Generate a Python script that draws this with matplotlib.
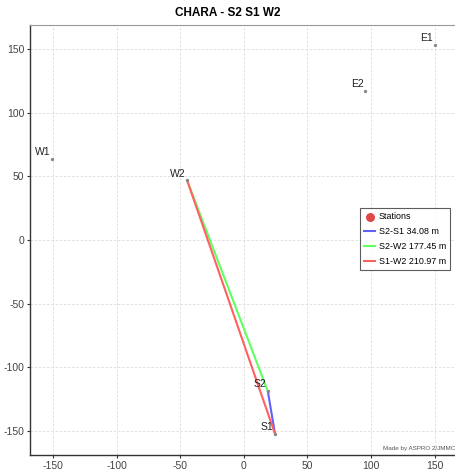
import numpy as np
import matplotlib.pyplot as plt

plt.rcParams['font.family'] = ['Liberation Sans', 'DejaVu Sans']
plt.rcParams['axes.unicode_minus'] = False

# station positions (m)
stations = ['S1', 'S2', 'E1', 'E2', 'W1', 'W2']
station_x = [24.6, 18.9, 149.9, 95.0, -150.5, -44.5]
station_y = [-152.5, -118.9, 153.4, 117.2, 63.8, 46.8]

# baselines drawn
baselines = [('S2', 'S1'), ('S2', 'W2'), ('S1', 'W2')]
baseline_len = [34.08, 177.45, 210.97]
baseline_col = ['#6060ff', '#60ff60', '#ff6060']

pos = dict(zip(stations, zip(station_x, station_y)))

fig = plt.figure(figsize=(4.55, 4.70), dpi=100)
ax = fig.add_axes([30 / 455, 15 / 470, 425 / 455, 430 / 470])

# Stations
ax.scatter(station_x, station_y, s=2, color='#888888', zorder=3)
for name, x, y in zip(stations, station_x, station_y):
    ax.text(x - 1, y + 1.5, name, fontsize=7.5, color='#222222',
            ha='right', va='bottom', zorder=4)
ax.scatter([], [], s=30, color='#e04848', label='Stations')

# Baselines
for (a, b), length, col in zip(baselines, baseline_len, baseline_col):
    ax.plot([pos[a][0], pos[b][0]], [pos[a][1], pos[b][1]], color=col,
            lw=1.5, label='%s-%s %.2f m' % (a, b, length), zorder=2)

# Axes, grid, labels
ax.set_xlim(-168, 166)
ax.set_ylim(-169, 169)
ax.set_xticks(np.arange(-150, 151, 50))
ax.set_yticks(np.arange(-150, 151, 50))
ax.tick_params(labelsize=7.5, length=2, width=0.8, colors='#333333',
               labelcolor='#444444', pad=2)
ax.grid(True, color='#dddddd', linestyle=(0, (3, 2)), linewidth=0.6)
ax.set_axisbelow(True)
for side in ['left', 'bottom']:
    ax.spines[side].set_color('#333333')
    ax.spines[side].set_linewidth(1.0)
ax.spines['top'].set_color('#999999')
ax.spines['right'].set_visible(False)

fig.text(0.5, 1 - 13 / 470, 'CHARA - S2 S1 W2', ha='center', va='center',
         fontsize=8.5, fontweight='bold')
ax.text(1.0, 0.01, 'Made by ASPRO 2/JMMC', transform=ax.transAxes,
        fontsize=4.5, color='#555555', ha='right', va='bottom')

leg = ax.legend(loc='upper left',
                bbox_to_anchor=(330 / 425, (470 - 208 - 15) / 430),
                fontsize=6.4, frameon=True, fancybox=False, handlelength=1.2,
                handletextpad=0.4, borderpad=0.5, labelspacing=0.65,
                borderaxespad=0)
leg.get_frame().set_edgecolor('#333333')
leg.get_frame().set_linewidth(0.8)

plt.savefig('out.png', dpi=100)
